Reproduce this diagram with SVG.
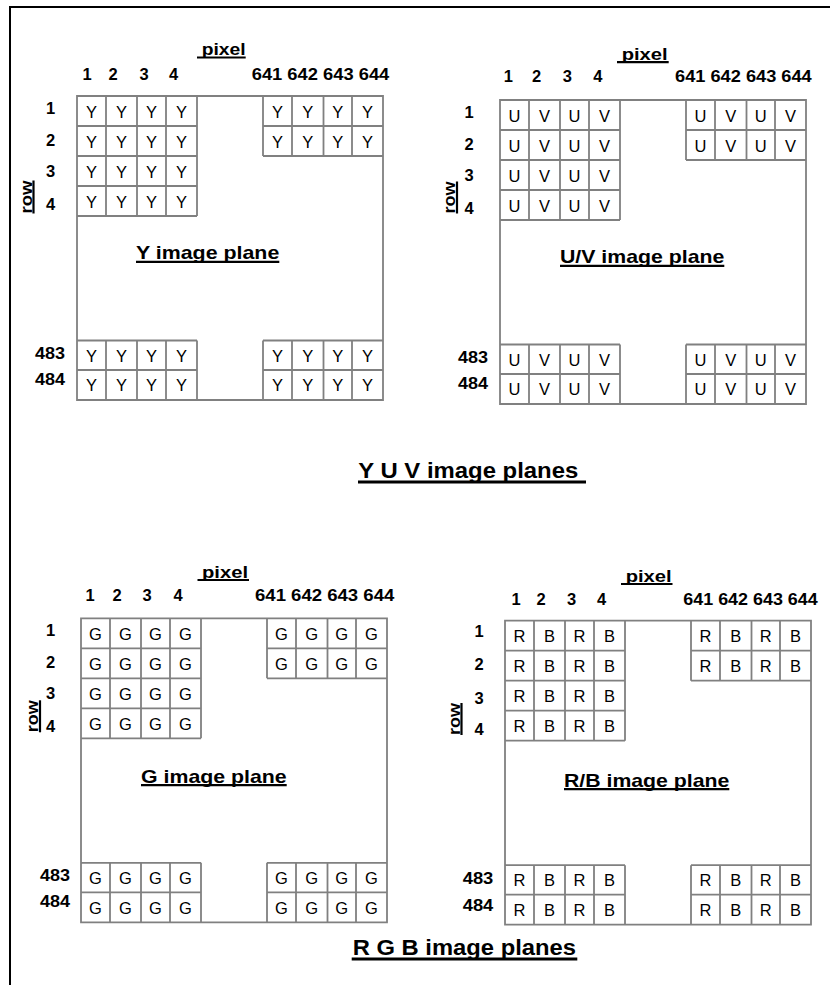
<svg xmlns="http://www.w3.org/2000/svg" xmlns:xlink="http://www.w3.org/1999/xlink" width="830" height="985" viewBox="0 0 830 985">
<style>
text { font-family: "Liberation Sans", Arial, sans-serif; fill: #000; }
.cell { font-size: 16.5px; text-anchor: middle; }
.lb { font-size: 16.5px; font-weight: bold; }
.mid { text-anchor: middle; }
.end { text-anchor: end; }
.px { font-size: 17px; font-weight: bold; }
.pl { font-size: 19px; font-weight: bold; }
.tt { font-size: 21.5px; font-weight: bold; }
.grid { fill: none; stroke: #808080; stroke-width: 1.8; }
.ul { stroke: #000; stroke-width: 2.2; }
.ult { stroke: #000; stroke-width: 3; }
.frame { fill: none; stroke: #000; stroke-width: 2; }
</style>
<defs>
<path id="grid" class="grid" d="M0,0H306V304H0Z
M29,0V120M60,0V120M89,0V120M120,0V120
M0,30H120M0,60H120M0,90H120M0,120H120
M186,0V60M215,0V60M246.5,0V60M275,0V60
M186,30H306M186,60H306
M0,244.5H120M186,244.5H306M0,274H120M186,274H306
M29,244.5V304M60,244.5V304M89,244.5V304M120,244.5V304
M186,244.5V304M215,244.5V304M246.5,244.5V304M275,244.5V304"/>
</defs>
<path class="frame" d="M10,985V7H830"/>
<g id="connectors"/>

<g id="y-plane" transform="translate(77,96)">
<use xlink:href="#grid" href="#grid"/>
<text class="cell" x="14.5 44.5 74.5 104.5 200.5 230.75 260.75 290.5" y="21.5">YYYYYYYY</text>
<text class="cell" x="14.5 44.5 74.5 104.5 200.5 230.75 260.75 290.5" y="51.5">YYYYYYYY</text>
<text class="cell" x="14.5 44.5 74.5 104.5" y="81.5">YYYY</text>
<text class="cell" x="14.5 44.5 74.5 104.5" y="111.5">YYYY</text>
<text class="cell" x="14.5 44.5 74.5 104.5 200.5 230.75 260.75 290.5" y="265.5">YYYYYYYY</text>
<text class="cell" x="14.5 44.5 74.5 104.5 200.5 230.75 260.75 290.5" y="295.3">YYYYYYYY</text>
<text class="px" x="124.7" y="-40.7" textLength="44" lengthAdjust="spacingAndGlyphs">pixel</text>
<line class="ul" x1="120" y1="-38.5" x2="168.7" y2="-38.5"/>
<text class="lb mid" x="10 36 67 96.5" y="-16">1234</text>
<text class="lb" x="174.7" y="-16" textLength="137.6" lengthAdjust="spacingAndGlyphs">641 642 643 644</text>
<text class="lb mid" x="-26.5 -26.5 -26.5 -26.5" y="17.5 50 81 114">1234</text>
<text class="px mid" transform="translate(-45.5,101) rotate(-90)" textLength="33" lengthAdjust="spacingAndGlyphs">row</text>
<line class="ul" x1="-43.5" y1="84.5" x2="-43.5" y2="117.5"/>
<text class="pl" x="59" y="163.3" textLength="143.3" lengthAdjust="spacingAndGlyphs">Y image plane</text>
<line class="ul" x1="59" y1="165.8" x2="202.3" y2="165.8"/>
<text class="lb end" x="-12" y="262.5" textLength="30" lengthAdjust="spacingAndGlyphs">483</text>
<text class="lb end" x="-12" y="289" textLength="30" lengthAdjust="spacingAndGlyphs">484</text>
</g>

<g id="uv-plane" transform="translate(500,100)">
<use xlink:href="#grid" href="#grid"/>
<text class="cell" x="14.5 44.5 74.5 104.5 200.5 230.75 260.75 290.5" y="21.5">UVUVUVUV</text>
<text class="cell" x="14.5 44.5 74.5 104.5 200.5 230.75 260.75 290.5" y="51.5">UVUVUVUV</text>
<text class="cell" x="14.5 44.5 74.5 104.5" y="81.5">UVUV</text>
<text class="cell" x="14.5 44.5 74.5 104.5" y="111.5">UVUV</text>
<text class="cell" x="14.5 44.5 74.5 104.5 200.5 230.75 260.75 290.5" y="265.5">UVUVUVUV</text>
<text class="cell" x="14.5 44.5 74.5 104.5 200.5 230.75 260.75 290.5" y="295.3">UVUVUVUV</text>
<text class="px" x="121.7" y="-40" textLength="46" lengthAdjust="spacingAndGlyphs">pixel</text>
<line class="ul" x1="117" y1="-37.8" x2="168.7" y2="-37.8"/>
<text class="lb mid" x="8.3 36.7 67.3 97.8" y="-17.7">1234</text>
<text class="lb" x="175" y="-17.7" textLength="136.7" lengthAdjust="spacingAndGlyphs">641 642 643 644</text>
<text class="lb mid" x="-31 -31 -31 -31" y="17.5 50 81 114">1234</text>
<text class="px mid" transform="translate(-45,97.5) rotate(-90)" textLength="32" lengthAdjust="spacingAndGlyphs">row</text>
<line class="ul" x1="-43" y1="81.5" x2="-43" y2="113.5"/>
<text class="pl" x="60" y="163.3" textLength="164.3" lengthAdjust="spacingAndGlyphs">U/V image plane</text>
<line class="ul" x1="60" y1="165.8" x2="224.3" y2="165.8"/>
<text class="lb end" x="-12" y="262.5" textLength="30" lengthAdjust="spacingAndGlyphs">483</text>
<text class="lb end" x="-12" y="289" textLength="30" lengthAdjust="spacingAndGlyphs">484</text>
</g>

<text class="tt" x="358.3" y="477.7" textLength="220" lengthAdjust="spacingAndGlyphs">Y U V image planes</text>
<line class="ult" x1="358" y1="482" x2="586" y2="482"/>

<g id="g-plane" transform="translate(81,618.3)">
<use xlink:href="#grid" href="#grid"/>
<text class="cell" x="14.5 44.5 74.5 104.5 200.5 230.75 260.75 290.5" y="21.5">GGGGGGGG</text>
<text class="cell" x="14.5 44.5 74.5 104.5 200.5 230.75 260.75 290.5" y="51.5">GGGGGGGG</text>
<text class="cell" x="14.5 44.5 74.5 104.5" y="81.5">GGGG</text>
<text class="cell" x="14.5 44.5 74.5 104.5" y="111.5">GGGG</text>
<text class="cell" x="14.5 44.5 74.5 104.5 200.5 230.75 260.75 290.5" y="265.5">GGGGGGGG</text>
<text class="cell" x="14.5 44.5 74.5 104.5 200.5 230.75 260.75 290.5" y="295.3">GGGGGGGG</text>
<text class="px" x="121" y="-40.6" textLength="46" lengthAdjust="spacingAndGlyphs">pixel</text>
<line class="ul" x1="116.5" y1="-38.3" x2="168" y2="-38.3"/>
<text class="lb mid" x="9 36 66 97" y="-17.3">1234</text>
<text class="lb" x="174" y="-17.3" textLength="139.3" lengthAdjust="spacingAndGlyphs">641 642 643 644</text>
<text class="lb mid" x="-30.5 -30.5 -30.5 -30.5" y="17.5 50 81 114">1234</text>
<text class="px mid" transform="translate(-43,98) rotate(-90)" textLength="32" lengthAdjust="spacingAndGlyphs">row</text>
<line class="ul" x1="-41" y1="82" x2="-41" y2="114"/>
<text class="pl" x="60" y="164.4" textLength="145.7" lengthAdjust="spacingAndGlyphs">G image plane</text>
<line class="ul" x1="60" y1="166.9" x2="205.7" y2="166.9"/>
<text class="lb end" x="-11" y="263" textLength="30" lengthAdjust="spacingAndGlyphs">483</text>
<text class="lb end" x="-11" y="288.5" textLength="30" lengthAdjust="spacingAndGlyphs">484</text>
</g>

<g id="rb-plane" transform="translate(505,620.7)">
<use xlink:href="#grid" href="#grid"/>
<text class="cell" x="14.5 44.5 74.5 104.5 200.5 230.75 260.75 290.5" y="21.5">RBRBRBRB</text>
<text class="cell" x="14.5 44.5 74.5 104.5 200.5 230.75 260.75 290.5" y="51.5">RBRBRBRB</text>
<text class="cell" x="14.5 44.5 74.5 104.5" y="81.5">RBRB</text>
<text class="cell" x="14.5 44.5 74.5 104.5" y="111.5">RBRB</text>
<text class="cell" x="14.5 44.5 74.5 104.5 200.5 230.75 260.75 290.5" y="265.5">RBRBRBRB</text>
<text class="cell" x="14.5 44.5 74.5 104.5 200.5 230.75 260.75 290.5" y="295.3">RBRBRBRB</text>
<text class="px" x="120.7" y="-39" textLength="46" lengthAdjust="spacingAndGlyphs">pixel</text>
<line class="ul" x1="116" y1="-36.7" x2="167.5" y2="-36.7"/>
<text class="lb mid" x="11 36 66.5 96.5" y="-15.7">1234</text>
<text class="lb" x="178.3" y="-15.7" textLength="134.4" lengthAdjust="spacingAndGlyphs">641 642 643 644</text>
<text class="lb mid" x="-26 -26 -26 -26" y="16.6 49.3 83.3 114.3">1234</text>
<text class="px mid" transform="translate(-45.5,98.3) rotate(-90)" textLength="32" lengthAdjust="spacingAndGlyphs">row</text>
<line class="ul" x1="-43.5" y1="82.3" x2="-43.5" y2="114.3"/>
<text class="pl" x="59" y="166" textLength="165.3" lengthAdjust="spacingAndGlyphs">R/B image plane</text>
<line class="ul" x1="59" y1="168.5" x2="224.3" y2="168.5"/>
<text class="lb end" x="-11.7" y="263.3" textLength="30.6" lengthAdjust="spacingAndGlyphs">483</text>
<text class="lb end" x="-11.7" y="290" textLength="30.6" lengthAdjust="spacingAndGlyphs">484</text>
</g>

<text class="tt" x="352.7" y="955" textLength="223.3" lengthAdjust="spacingAndGlyphs">R G B image planes</text>
<line class="ult" x1="351.7" y1="959" x2="577.3" y2="959"/>
</svg>
